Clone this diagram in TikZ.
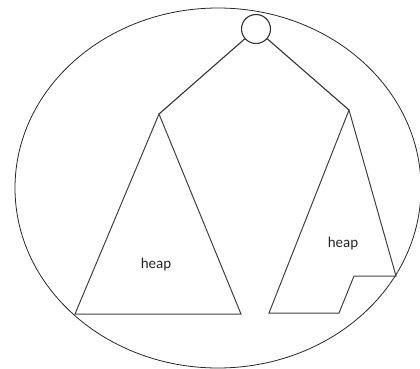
\documentclass[tikz,border=0pt]{standalone}
\usepackage{fontspec}
\setmainfont{Carlito}
\begin{document}
\begin{tikzpicture}[x=1pt,y=-1pt,
  edge/.style={draw=black!80,line width=1.1pt},
  heapshape/.style={draw=black!75,line width=1pt,line join=miter},
  lbl/.style={font=\fontsize{15}{17}\selectfont,text=black!85}]
\useasboundingbox (0,0) rectangle (420,369);
\draw[black!85,line width=0.8pt] (218,188) ellipse [x radius=203, y radius=180];
\node[circle,draw=black!80,line width=1.1pt,minimum size=29pt,inner sep=0pt] (root) at (256,29) {};
\coordinate (la) at (159,114);
\coordinate (ra) at (349,110);
\draw[edge] (root) -- (la);
\draw[edge] (root) -- (ra);
\draw[heapshape] (la) -- (75,314) -- (241,314) -- cycle;
\draw[heapshape] (ra) -- (269,313) -- (339,313) -- (354,276) -- (396,276) -- cycle;
\node[lbl] (h1) at (156,264) {heap};
\node[lbl] (h2) at (343,243) {heap};
\end{tikzpicture}
\end{document}
